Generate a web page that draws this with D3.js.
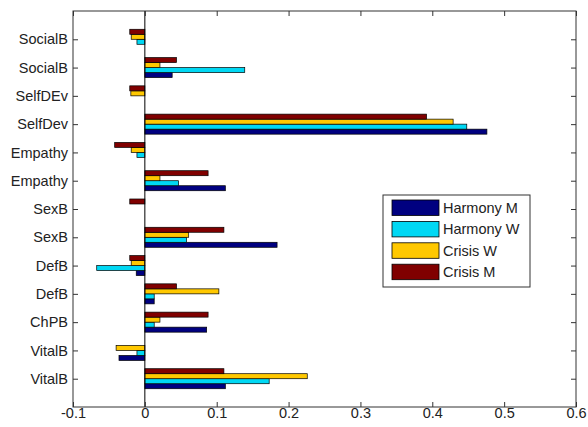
<!DOCTYPE html>
<html><head><meta charset="utf-8">
<script src="https://cdn.jsdelivr.net/npm/d3@7"></script>
<style>body{margin:0;background:#fff}svg{display:block}text{font-family:"Liberation Sans",Arial,sans-serif}</style>
</head><body><svg id="c" width="588" height="427"></svg>
<script>
// categories listed from bottom to top (MATLAB barh order)
const categories = ["VitalB","VitalB","ChPB","DefB","DefB","SexB","SexB","Empathy","Empathy","SelfDev","SelfDEv","SocialB","SocialB"];
const harmonyM = [0.112,-0.036,0.086,0.013,-0.012,0.184,0,0.112,0,0.476,0,0.038,0];
const harmonyW = [0.173,-0.011,0.013,0.013,-0.067,0.058,0,0.047,-0.011,0.448,0,0.139,-0.011];
const crisisW  = [0.226,-0.040,0.021,0.103,-0.019,0.061,0,0.021,-0.019,0.429,-0.0195,0.021,-0.019];
const crisisM  = [0.110,0,0.088,0.044,-0.021,0.110,-0.021,0.088,-0.042,0.392,-0.021,0.044,-0.021];
const seriesNames = ["Harmony M","Harmony W","Crisis W","Crisis M"];
const xTicks = [-0.1,0,0.1,0.2,0.3,0.4,0.5,0.6];

const seriesVals = [harmonyM,harmonyW,crisisW,crisisM];
const colors = ["#000080","#00d8f4","#ffc800","#800000"];
const FS = 14.5;

const svg = d3.select("#c");
const L=73,R=576,T=11,B=407;
const x = d3.scaleLinear().domain([-0.1,0.6]).range([L,R]);
const y = d3.scaleLinear().domain([0,14]).range([B,T]);
const h = 0.177;

// bars
seriesVals.forEach((vals,k)=>{
  svg.append("g").selectAll("rect").data(vals).join("rect")
    .attr("x",d=>x(Math.min(0,d)))
    .attr("width",d=>Math.abs(x(d)-x(0)))
    .attr("y",(d,i)=>y(i+1-2*h+(k+1)*h))
    .attr("height",y(0)-y(h))
    .attr("fill",colors[k])
    .attr("stroke",d=>d===0?"none":"#000")
    .attr("stroke-width",0.7);
});

// zero line
svg.append("line").attr("x1",x(0)).attr("x2",x(0)).attr("y1",T).attr("y2",B)
  .attr("stroke","#000").attr("stroke-width",1);

// axes box
svg.append("rect").attr("x",L).attr("y",T).attr("width",R-L).attr("height",B-T)
  .attr("fill","none").attr("stroke","#333").attr("stroke-width",1);

// x axis ticks (inside, top and bottom)
const xb = svg.append("g").attr("transform",`translate(0,${B})`)
  .call(d3.axisBottom(x).tickValues(xTicks).tickSize(-5).tickPadding(1).tickFormat(d=>String(+d.toFixed(1))));
const xt = svg.append("g").attr("transform",`translate(0,${T})`)
  .call(d3.axisTop(x).tickValues(xTicks).tickSize(-5).tickFormat(""));
// y axis ticks
const ticksY = d3.range(1,14);
const yl = svg.append("g").attr("transform",`translate(${L},0)`)
  .call(d3.axisLeft(y).tickValues(ticksY).tickSize(-5).tickPadding(5).tickFormat(d=>categories[d-1]));
const yr = svg.append("g").attr("transform",`translate(${R},0)`)
  .call(d3.axisRight(y).tickValues(ticksY).tickSize(-5).tickFormat(""));
[xb,xt,yl,yr].forEach(g=>{
  g.select(".domain").remove();
  g.selectAll(".tick line").attr("stroke","#333");
  g.selectAll("text").attr("font-size",FS).attr("fill","#222")
   .style("font-family","'Liberation Sans',Arial,sans-serif");
});

// legend
const lg = svg.append("g");
lg.append("rect").attr("x",383).attr("y",195).attr("width",147).attr("height",92)
  .attr("fill","#fff").attr("stroke","#333").attr("stroke-width",1);
seriesNames.forEach((n,k)=>{
  const yy = 200 + k*21.4;
  lg.append("rect").attr("x",392).attr("y",yy).attr("width",47).attr("height",15.5)
    .attr("fill",colors[k]).attr("stroke","#000").attr("stroke-width",0.8);
  lg.append("text").attr("x",443).attr("y",yy+13).attr("font-size",FS).attr("fill","#222").text(n);
});
</script></body></html>
